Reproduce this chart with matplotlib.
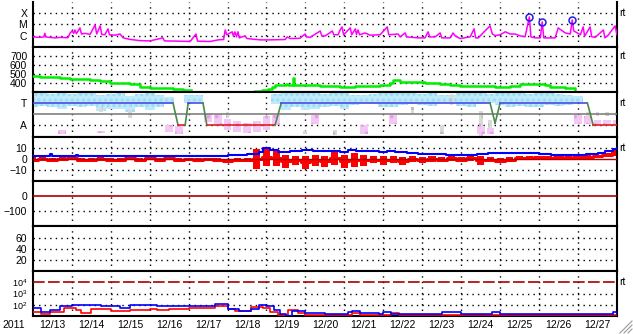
import numpy as np
import matplotlib.pyplot as plt
from matplotlib.lines import Line2D

plt.rcParams['font.family'] = ['Liberation Sans', 'DejaVu Sans']
plt.rcParams['font.size'] = 7.5
plt.rcParams['mathtext.fontset'] = 'custom'
plt.rcParams['mathtext.rm'] = 'Liberation Sans'
plt.rcParams['hatch.linewidth'] = 1.5

nan = np.nan
date_labels = ['12/13', '12/14', '12/15', '12/16', '12/17', '12/18', '12/19', '12/20',
               '12/21', '12/22', '12/23', '12/24', '12/25', '12/26', '12/27']

# panel 1 - x-ray flux (W/m2), time in days from left edge
xray_day = [0.00, 0.18, 0.28, 0.31, 0.34, 0.44, 0.57, 0.70, 0.90, 0.96,
            1.01, 1.05, 1.08, 1.12, 1.21, 1.25, 1.34, 1.47, 1.60, 1.64,
            1.73, 1.77, 1.85, 1.93, 1.97, 2.11, 2.24, 2.32, 2.50, 2.75,
            3.01, 3.34, 3.38, 3.78, 4.04, 4.19, 4.23, 4.55, 4.76, 4.90,
            4.94, 4.98, 5.12, 5.15, 5.19, 5.23, 5.27, 5.30, 5.45, 5.50,
            5.84, 6.09, 6.48, 6.53, 6.61, 6.86, 6.99, 7.03, 7.12, 7.38,
            7.42, 7.51, 7.69, 7.73, 7.84, 7.89, 7.94, 7.98, 8.15, 8.19,
            8.28, 8.31, 8.35, 8.39, 8.53, 8.66, 8.92, 9.10, 9.14, 9.38,
            9.43, 9.56, 9.60, 9.89, 10.07, 10.15, 10.19, 10.33, 10.46, 10.50,
            10.72, 10.79, 10.84, 10.97, 11.23, 11.33, 11.37, 11.44, 11.56, 11.74,
            11.80, 11.87, 12.00, 12.13, 12.26, 12.39, 12.51, 12.64, 12.75, 12.79,
            12.90, 13.03, 13.08, 13.12, 13.29, 13.41, 13.49, 13.67, 13.80, 13.85,
            13.89, 13.93, 14.06, 14.13, 14.17, 14.31, 14.35, 14.44, 14.65, 14.69,
            14.78, 14.95, 15.00]
xray_flux = [7.7e-7, 7.0e-7, 7.7e-7, 1.6e-6, 7.5e-7, 7.0e-7, 6.3e-7, 7.0e-7, 6.5e-7, 1.75e-6,
             2.6e-6, 1.6e-6, 3.2e-6, 1.5e-6, 4.9e-6, 1.4e-6, 1.6e-6, 1.3e-6, 9.0e-6, 1.4e-6,
             7.4e-6, 1.3e-6, 1.2e-6, 4.0e-6, 1.2e-6, 1.1e-6, 1.4e-6, 6.3e-7, 4.6e-7, 3.6e-7,
             3.4e-7, 6.3e-7, 3.4e-7, 3.2e-7, 3.0e-7, 1.4e-6, 3.2e-7, 3.0e-7, 4.2e-7, 4.5e-7,
             3.2e-6, 1.2e-6, 2.2e-6, 9.0e-7, 2.2e-6, 8.0e-7, 2.2e-6, 6.3e-7, 9.5e-7, 5.5e-7,
             4.2e-7, 4.2e-7, 4.5e-7, 7.7e-7, 5.5e-7, 5.8e-7, 1.4e-6, 7.7e-7, 7.0e-7, 2.6e-6,
             9.5e-7, 9.5e-7, 2.6e-6, 1.2e-6, 1.2e-6, 3.2e-6, 6.0e-6, 1.2e-6, 4.9e-6, 1.2e-6,
             4.0e-6, 1.3e-6, 3.2e-6, 1.2e-6, 1.75e-6, 1.1e-6, 1.2e-6, 6.0e-6, 1.2e-6, 1.4e-6,
             7.7e-7, 1.75e-6, 7.7e-7, 6.3e-7, 6.3e-7, 2.2e-6, 7.7e-7, 7.7e-7, 1.75e-6, 6.3e-7,
             6.3e-7, 1.75e-6, 1.0e-6, 5.5e-7, 7.7e-7, 4.0e-6, 6.3e-7, 6.3e-7, 1.75e-6, 7.4e-6,
             1.4e-6, 1.0e-6, 1.2e-6, 2.2e-6, 1.4e-6, 1.4e-6, 9.5e-7, 8.0e-7, 4.6e-5, 7.7e-7,
             6.3e-7, 6.3e-7, 1.7e-5, 6.3e-7, 6.3e-7, 6.3e-7, 4.9e-6, 1.75e-6, 1.4e-6, 2.5e-5,
             2.6e-6, 2.2e-6, 1.2e-6, 6.0e-6, 9.0e-7, 6.0e-6, 8.0e-7, 7.0e-7, 3.2e-6, 6.3e-7,
             1.17e-6, 7.4e-6, 1.2e-6]
flare_day = [12.75, 13.08, 13.85]
flare_flux = [4.6e-5, 1.7e-5, 2.5e-5]

# panel 2 - solar wind speed
speed_day = [0.00, 0.18, 0.70, 0.96, 1.21, 1.47, 1.73, 1.98, 2.50, 2.75,
             3.01, 3.52, 3.60, 3.78, 3.85, 4.04, 4.05, 5.71, 5.89, 6.04,
             6.15, 6.22, 6.35, 6.50, 6.55, 6.68, 6.71, 6.86, 7.12, 7.38,
             7.64, 7.89, 8.28, 8.66, 8.92, 9.17, 9.25, 9.43, 9.69, 10.07,
             10.46, 10.72, 10.97, 11.49, 11.87, 12.26, 12.51, 12.90, 13.16, 13.29,
             13.67, 13.93]
speed_val = [478, 467, 456, 445, 440, 433, 422, 400, 389, 352,
             344, 344, 328, 328, 317, 317, nan, 306, 322, 328,
             356, 378, 378, 389, 378, 456, 378, 370, 378, 360,
             367, 356, 360, 367, 378, 400, 433, 411, 405, 400,
             389, 378, 367, 360, 356, 367, 389, 385, 378, 350,
             345, 322]

# panel 3 - T / A panel, bands on a 6-hour grid
band_day = np.arange(0, 15.01, 0.25)
cyan_lo = [2.6, 2.7, 2.6, 2.5, 2.7, 2.6, 2.7, 2.3, 2.5, 2.5, 2.2, 2.6,
           2.4, 2.6, 2.9, nan, 3.0, 3.1, nan, nan, nan, nan, nan, nan,
           nan, 2.9, 2.4, 2.6, 2.4, 2.5, 2.6, 2.7, 2.5, 2.8, 3.0, 2.9,
           2.6, 2.6, 2.8, 2.9, 2.8, 2.7, 3.0, 3.1, 2.7, 2.6, 2.9, 3.0,
           2.8, 2.6, 2.7, 2.6, 2.6, 2.8, 2.7, 2.8, 3.0, nan, nan, nan, nan]
cyan_hi = [3.9, 3.9, 3.8, 3.9, 3.8, 3.9, 3.9, 3.7, 3.8, 3.9, 3.6, 3.8,
           3.9, 3.7, 3.5, nan, 3.7, 3.7, nan, nan, nan, nan, nan, nan,
           nan, 3.8, 3.9, 3.9, 3.9, 3.9, 3.8, 3.9, 3.9, 3.7, 3.7, 3.8,
           3.9, 3.9, 3.9, 3.9, 3.8, 3.9, 3.7, 3.7, 3.9, 3.9, 3.9, 3.8,
           3.9, 3.9, 3.9, 3.8, 3.9, 3.9, 3.8, 3.7, 3.6, nan, nan, nan, nan]
pink_lo = [nan, nan, nan, 0.2, nan, nan, nan, 0.3, nan, nan, nan, nan,
           nan, nan, 0.4, 0.2, nan, nan, 1.3, 1.0, 0.6, 0.4, 0.3, 0.4,
           0.6, 1.0, nan, nan, nan, 1.1, nan, nan, nan, nan, 0.2, nan,
           nan, 1.1, nan, nan, nan, nan, nan, nan, nan, nan, 0.2, 0.2,
           nan, nan, nan, nan, nan, nan, nan, nan, 1.1, 1.1, 1.0, 1.0, 1.0]
pink_hi = [nan, nan, nan, 0.6, nan, nan, nan, 0.5, nan, nan, nan, nan,
           nan, nan, 1.0, 0.9, nan, nan, 2.1, 2.0, 1.6, 1.4, 1.2, 1.4,
           1.8, 1.9, nan, nan, nan, 1.9, nan, nan, nan, nan, 1.0, nan,
           nan, 1.9, nan, nan, nan, nan, nan, nan, nan, nan, 0.9, 0.8,
           nan, nan, nan, nan, nan, nan, nan, nan, 1.9, 1.8, 1.5, 1.5, 1.5]
grey_lo = [nan, nan, nan, nan, nan, nan, nan, 2.2, nan, nan, 1.7, nan,
           nan, nan, nan, nan, nan, nan, nan, nan, 1.7, nan, nan, nan,
           nan, nan, nan, nan, 0.2, 1.5, nan, 0.1, nan, nan, nan, nan,
           nan, nan, nan, 2.0, nan, nan, 0.2, 2.8, nan, nan, 0.0, 0.3,
           nan, nan, nan, nan, nan, nan, nan, nan, nan, 1.8, 1.8, 1.8, 1.8]
grey_hi = [nan, nan, nan, nan, nan, nan, nan, 2.6, nan, nan, 2.4, nan,
           nan, nan, nan, nan, nan, nan, nan, nan, 2.2, nan, nan, nan,
           nan, nan, nan, nan, 0.5, 2.1, nan, 0.6, nan, nan, nan, nan,
           nan, nan, nan, 2.6, nan, nan, 1.0, 3.8, nan, nan, 2.3, 1.5,
           nan, nan, nan, nan, nan, nan, nan, nan, nan, 2.2, 2.2, 2.2, 2.2]
state_day = [0, 3.60, 3.73, 3.91, 3.99, 4.37, 4.47, 6.22, 6.38, 11.74, 11.87, 12.00, 14.24, 14.39, 15]
state_lvl = [3, 3, 1, 1, 3, 3, 1, 1, 3, 3, 1.2, 3, 3, 1, 1]

# panel 4 - field components (nT)
red4_lo = [-3, -2, -3, -2, -1, -3, -2, -2, -3, -2, -1, -2,
           -1, -2, -1, -2, -1, -2, -1, -2, -3, -3, -2, -9,
           -6, -6, -8, -5, -9, -6, -7, -5, -8, -7, -6, -4,
           -5, -4, -5, -3, -4, -3, -3, -2, -3, -2, -5, -3,
           -4, -3, -1, -1, 0, -1, 0, -1, 0, 0, 1, 2, 3]
red4_hi = [2, 2, 1, 2, 2, 1, 1, 2, 1, 1, 2, 1,
           2, 1, 2, 1, 1, 1, 1, 1, 0, 1, 1, 9,
           10, 8, 4, 3, 3, 4, 3, 6, 4, 5, 4, 3,
           3, 3, 2, 3, 2, 3, 2, 3, 2, 3, 3, 2,
           1, 2, 3, 3, 3, 3, 3, 3, 4, 4, 4, 5, 9]
blue4_day = [0, 0.4, 0.44, 0.5, 1.05, 1.1, 1.15, 2.0, 3.0, 4.0,
             5.0, 5.5, 5.8, 5.9, 6.1, 6.3, 6.6, 6.9, 7.2, 7.6,
             7.9, 8.1, 8.3, 8.6, 8.9, 9.1, 9.3, 9.6, 9.9, 10.2,
             10.6, 11.0, 11.4, 11.7, 12.0, 12.5, 13.0, 13.3, 13.8, 14.2,
             14.5, 14.7, 14.9, 15.0]
blue4_val = [2.5, 2.5, 4.5, 2.7, 2.7, 4.0, 2.7, 2.7, 3.0, 3.0,
             3.5, 4.5, 6.0, 10, 8, 6.5, 7, 8, 7.5, 7,
             6.5, 7.8, 7.5, 7, 6, 7, 5.8, 5, 4.6, 4.2,
             4.0, 4.0, 4.5, 5.0, 5.5, 5.3, 4.6, 4.0, 4.0, 4.8,
             5.5, 7, 9, 10]

# panel 7 - particle flux (log)
blue7_day = [0, 0.2, 0.45, 0.7, 1.0, 1.5, 1.75, 2.25, 2.5, 3.0,
             3.2, 3.5, 4.0, 4.3, 4.68, 5.0, 5.3, 5.6, 5.8, 6.0,
             6.2, 6.35, 6.5, 6.65, 6.85, 7.0, 7.5, 8.0, 8.1, 8.2,
             8.4, 8.9, 9.0, 9.2, 10.0, 10.5, 10.7, 11.0, 11.8, 12.0,
             13.0, 14.0, 14.9, 15]
blue7_val = [54, 23, 32, 79, 100, 100, 71, 54, 100, 100,
             71, 71, 79, 71, 126, 44, 28, 44, 100, 79,
             35, 16, 10, 28, 28, 19, 15, 15, 23, 28,
             19, 16, 23, 16, 16, 23, 23, 16, 23, 16,
             16, 16, 25, 16]
red7_day = [0, 0.2, 0.45, 0.8, 1.1, 1.25, 1.5, 1.75, 2.0, 2.5,
            3.0, 3.2, 3.5, 4.0, 4.68, 5.0, 5.2, 5.6, 5.9, 6.1,
            6.3, 6.55, 6.8, 7.0, 8.0, 8.2, 8.4, 9.0, 9.2, 9.4, 15]
red7_val = [23, 15, 23, 54, 35, 19, 40, 44, 28, 35,
            40, 35, 40, 54, 81, 44, 28, 66, 54, 23,
            13, 35, 19, 13, 13, 19, 13, 13, 19, 13, 13]

dot = (0, (1, 3))

fig = plt.figure(figsize=(6.33, 3.34), dpi=100)
left, right = 32.8 / 633, 617 / 633
top, bottom = 1 - 2 / 334, 1 - 316 / 334
h = (top - bottom) / 7
axes = [fig.add_axes([left, top - (i + 1) * h, right - left, h]) for i in range(7)]

for ax in axes:
    ax.set_xlim(0, 15)
    ax.set_xticks([])
    for d in range(1, 15):
        ax.axvline(d, color='k', ls=dot, lw=1, zorder=1)
    for s in ax.spines.values():
        s.set_linewidth(1.5)
    ax.tick_params(axis='y', length=0, pad=4)
axes[0].spines['top'].set_visible(False)

def hgrid(ax, levels):
    for v in levels:
        ax.axhline(v, color='k', ls=dot, lw=1, zorder=1)

def rt(ax, y):
    ax.text(1.004, y, 'rt', transform=ax.get_yaxis_transform(), va='center', ha='left')

def band(ax, lo, hi, width, **kw):
    lo, hi = np.array(lo, dtype=float), np.array(hi, dtype=float)
    ok = ~np.isnan(lo)
    ax.bar(band_day[ok], (hi - lo)[ok], bottom=lo[ok], width=width, lw=0, **kw)

# panel 1
ax = axes[0]
ax.set_yscale('log')
ax.set_ylim(1e-7, 1e-3)
ax.set_yticks([1e-6, 1e-5, 1e-4])
ax.set_yticklabels(['C', 'M', 'X'])
ax.minorticks_off()
hgrid(ax, [1e-6, 1e-5, 1e-4])
ax.plot(xray_day, xray_flux, color='#ff00ff', lw=1.1, zorder=3)
ax.plot(flare_day, flare_flux, 'o', mfc='none', mec='#2020e0', ms=5, mew=1.1, zorder=4)
rt(ax, 1e-4)

# panel 2
ax = axes[1]
ax.set_ylim(300, 800)
ax.set_yticks([400, 500, 600, 700])
hgrid(ax, [400, 500, 600, 700])
ax.plot(speed_day, speed_val, color='#00ee00', lw=1.8, drawstyle='steps-post', zorder=3)
rt(ax, 700)

# panel 3
ax = axes[2]
ax.set_ylim(0, 4)
ax.set_yticks([3, 1])
ax.set_yticklabels(['T', 'A'])
hgrid(ax, [1])
band(ax, cyan_lo, cyan_hi, 0.25, facecolor='#bfeafb', edgecolor='#97dcf4', hatch='...', zorder=2)
band(ax, grey_lo, grey_hi, 0.1, facecolor='#dadada', edgecolor='#bdbdbd', hatch='..', zorder=2)
band(ax, pink_lo, pink_hi, 0.2, facecolor='#f4c8f4', edgecolor='#ea9eea', hatch='..', zorder=2)
ax.axhline(2, color='#808080', lw=1.2, zorder=3)
for i in range(len(state_day) - 1):
    a, b = state_lvl[i], state_lvl[i + 1]
    c = '#4a4ae6' if a == b == 3 else ('#e02020' if a == b == 1 else '#4a8a4a')
    ax.plot(state_day[i:i + 2], state_lvl[i:i + 2], color=c, lw=1.2, zorder=4)
rt(ax, 3)

# panel 4
ax = axes[3]
ax.set_ylim(-20, 20)
ax.set_yticks([10, 0, -10])
hgrid(ax, [10, -10])
band(ax, red4_lo, red4_hi, 0.18, color='#ff0000', zorder=2)
red4_mid = (np.array(red4_lo) + np.array(red4_hi)) / 2
ax.plot(band_day, red4_mid, color='#ff0000', lw=2.2, drawstyle='steps-mid', zorder=2)
ax.axhline(0, color='#b00000', lw=1, zorder=3)
ax.plot(blue4_day, blue4_val, color='#0000ff', lw=1.5, drawstyle='steps-post', zorder=4)
rt(ax, 10)

# panel 5
ax = axes[4]
ax.set_ylim(-200, 100)
ax.set_yticks([0, -100])
hgrid(ax, [-100])
ax.axhline(0, color='#aa0000', lw=1.2, zorder=3)

# panel 6
ax = axes[5]
ax.set_ylim(0, 80)
ax.set_yticks([60, 40, 20])
hgrid(ax, [20, 40, 60])

# panel 7
ax = axes[6]
ax.set_yscale('log')
ax.set_ylim(10, 1e5)
ax.set_yticks([1e4, 1e3, 1e2])
ax.set_yticklabels([r'$\mathregular{10^4}$', r'$\mathregular{10^3}$', r'$\mathregular{10^2}$'],
                   fontsize=6.5)
ax.minorticks_off()
hgrid(ax, [1e2, 1e3])
ax.axhline(1e4, color='#aa0000', lw=1.2, ls=(0, (7, 2)), zorder=3)
ax.plot(red7_day, red7_val, color='#ff0000', lw=1.2, drawstyle='steps-post', zorder=3)
ax.plot(blue7_day, blue7_val, color='#0000ff', lw=1.2, drawstyle='steps-post', zorder=4)
ax.set_xticks(np.arange(15) + 0.5)
ax.set_xticklabels(date_labels)
ax.tick_params(axis='x', length=0, pad=3)
rt(ax, 1e4)

fig.text(0.004, 1 - 325 / 334, '2011', va='center', ha='left')

# resize grip in the corner
for k in range(3):
    off = 4 * k
    fig.add_artist(Line2D([(620 + off) / 633, 632 / 633], [1 / 334, (13 - off) / 334],
                          color='#999999', lw=0.8))

fig.savefig('out.png', dpi=100)
